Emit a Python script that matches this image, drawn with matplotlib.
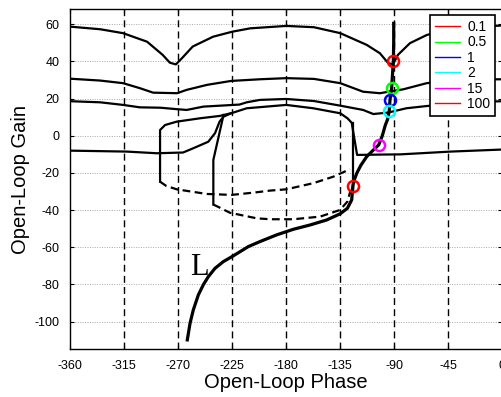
import matplotlib
matplotlib.use("Agg")
import matplotlib.pyplot as plt
from matplotlib.lines import Line2D

plt.rcParams['font.family'] = ['Liberation Sans', 'DejaVu Sans']
plt.rcParams['axes.unicode_minus'] = False

# ---- bound curves (phase in degrees, gain in dB) ----
bA_phase = [-360, -335, -316, -296, -283, -277, -272, -267, -258, -241, -225, -210, -180, -157, -135, -113, -102, -95, -91, -87, -77, -63, -45, -20, 0]
bA_gain  = [58.7, 57.3, 55.2, 50.6, 43.5, 39.3, 38.4, 41.7, 48.0, 53.3, 56.0, 57.8, 59.1, 58.4, 55.2, 48.9, 44.4, 39.0, 38.5, 43.5, 49.8, 54.2, 57.4, 58.8, 59.3]

bB_phase = [-360, -335, -316, -302, -291, -271, -263, -246, -226, -202, -180, -157, -135, -116, -102, -92, -82.5, -63, -45, -20, 0]
bB_gain  = [30.7, 29.7, 28.3, 25.6, 23.2, 22.9, 24.7, 27.4, 29.5, 30.4, 31.0, 30.6, 28.3, 23.7, 22.9, 24.0, 25.0, 28.3, 29.5, 30.3, 30.4]

bC_phase = [-360, -335, -316, -302, -285, -271, -263, -249, -235, -219, -213, -202, -180, -157, -135, -116, -107.5, -95, -80, -63, -45, -20, 0]
bC_gain  = [18.6, 18.0, 16.6, 15.3, 15.1, 14.3, 13.9, 15.7, 16.2, 16.8, 18.0, 19.3, 19.8, 18.7, 16.2, 13.9, 11.7, 12.5, 14.8, 16.0, 17.0, 18.2, 18.6]

bE_phase = [-360, -313, -288, -266, -257.5, -245, -239.4, -235.6, -232.3, -226, -213, -180, -157.5, -135, -129, -125.5, -121, -100, -85, -43, 0]
bE_gain  = [-8.0, -8.5, -9.4, -9.0, -6.7, -3.2, 1.4, 7.6, 10.3, 12.1, 14.8, 16.6, 14.8, 12.1, 9.4, 7.0, -10.3, -10.1, -10.0, -8.5, -7.4]

# closed bound 1: solid upper part and dashed lower part
c1_top_phase = [-285.2, -285.2, -281, -271.3, -252, -235.2, -226.4]
c1_top_gain  = [-24.7, 3.1, 5.8, 7.6, 9.4, 10.7, 12.1]
c1_bot_phase = [-285.2, -280, -271.3, -246.3, -225.5, -207.5, -193.6, -180, -157.5, -140.8, -127]
c1_bot_gain  = [-24.7, -27.0, -28.8, -31.3, -31.8, -30.6, -29.5, -28.8, -25.5, -22.0, -18.0]

# closed bound 2
c2_left_phase = [-232.3, -240.8, -240.8]
c2_left_gain  = [11.2, -13.0, -37.0]
c2_right_phase = [-124.7, -124.7]
c2_right_gain  = [7.0, -29.0]
c2_bot_phase = [-240.8, -237.2, -227, -204.7, -193.6, -174.1, -151.9, -135.2, -129.1, -126.3]
c2_bot_gain  = [-37.0, -38.1, -41.4, -44.4, -44.9, -44.9, -43.5, -39.9, -35.4, -29.1]

# open-loop L
L_phase = [-90.5, -90.5, -90.8, -91.5, -92.2, -93.6, -94.2, -95.5, -97.5, -100, -103, -108, -113, -118, -121.3, -123.5, -124.5, -125.5, -129.1, -135.2, -146.4, -160.3, -174.1, -188, -201.9, -211.6, -224.2, -232.5, -239.4, -245, -249.2, -253.3, -257.5, -260.2, -262.5]
L_gain  = [60.5, 50.0, 40.3, 33.0, 25.7, 19.3, 13.5, 9.0, 5.7, 0.0, -4.9, -8.0, -11.2, -16.0, -20.2, -24.0, -26.8, -34.5, -39.0, -42.0, -45.3, -48.0, -50.3, -53.3, -56.9, -59.6, -64.6, -67.7, -71.3, -75.8, -80.2, -85.6, -93.7, -100.8, -109.8]

# frequency markers on L
freq_labels = ['0.1', '0.5', '1', '2', '15', '100']
freq_colors = ['#ff0000', '#00ff00', '#0000ff', '#00ffff', '#ff00ff', '#ff0000']
mk_phase = [-90.8, -92.2, -93.6, -94.2, -103.0, -124.4]
mk_gain  = [40.3, 25.7, 19.3, 13.5, -4.9, -26.8]

xticks = [-360, -315, -270, -225, -180, -135, -90, -45, 0]
yticks = [-100, -80, -60, -40, -20, 0, 20, 40, 60]

fig = plt.figure(figsize=(5.02, 3.97), dpi=100)
ax = fig.add_axes([70.3/502, 1-349/397, 432/502, 340/397])
ax.set_xlim(-360, 0)
ax.set_ylim(-114.7, 68.2)

# grid
for g in yticks:
    ax.axhline(g, color='#a8a8a8', lw=0.7, ls=(0, (1, 1.5)), zorder=0)
for p in xticks[1:-1]:
    ax.axvline(p, color='black', lw=1.0, ls=(0, (5, 3)), zorder=1)

blw = 1.6
kw = dict(color='black', lw=blw, zorder=2)
ax.plot(bA_phase, bA_gain, **kw)
ax.plot(bB_phase, bB_gain, **kw)
ax.plot(bC_phase, bC_gain, **kw)
ax.plot(bE_phase, bE_gain, **kw)
ax.plot(c1_top_phase, c1_top_gain, **kw)
ax.plot(c1_bot_phase, c1_bot_gain, color='black', lw=blw, ls=(0, (3.5, 2)), zorder=2)
ax.plot(c2_left_phase, c2_left_gain, **kw)
ax.plot(c2_right_phase, c2_right_gain, **kw)
ax.plot(c2_bot_phase, c2_bot_gain, color='black', lw=blw, ls=(0, (3.5, 2)), zorder=2)

ax.plot(L_phase, L_gain, color='black', lw=2.3, zorder=3, solid_joinstyle='round')

for p, g, c in zip(mk_phase, mk_gain, freq_colors):
    ax.plot([p], [g], marker='o', ms=8, mfc='none', mec=c, mew=1.8, ls='none', zorder=4)

ax.text(-252, -71, 'L', family=['Liberation Serif'], fontsize=22, ha='center', va='center')

ax.set_xticks(xticks)
ax.set_yticks(yticks)
ax.set_xticklabels([str(v) for v in xticks])
ax.set_yticklabels([str(v) for v in yticks])
ax.tick_params(direction='in', length=3, width=0.8, labelsize=9, top=True, right=True, pad=8)
for s in ax.spines.values():
    s.set_linewidth(1.0)

ax.set_xlabel('Open-Loop Phase', fontsize=14.5, labelpad=1)
ax.set_ylabel('Open-Loop Gain', fontsize=14.5, labelpad=3)

handles = [Line2D([0], [0], color=c, lw=1.0) for c in freq_colors]
leg = ax.legend(handles, freq_labels, loc='upper right', bbox_to_anchor=(0.984, 0.982),
                borderaxespad=0, fontsize=10, frameon=True, fancybox=False,
                edgecolor='black', framealpha=1, labelspacing=0.1,
                handlelength=1.8, handletextpad=0.55, borderpad=0.35)
leg.get_frame().set_linewidth(1.2)
leg.set_zorder(10)

fig.savefig('out.png', dpi=100)
